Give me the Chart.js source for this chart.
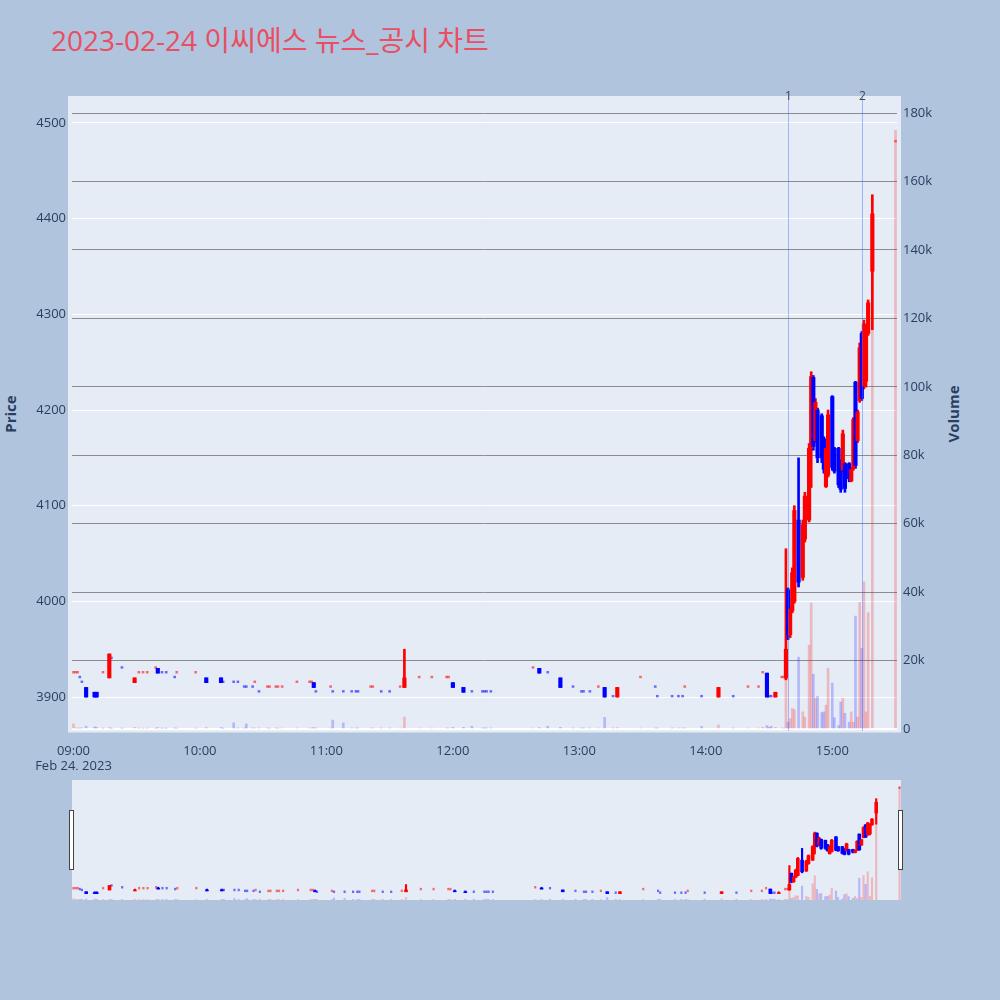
<!DOCTYPE html>
<html>
<head>
<meta charset="utf-8">
<script src="https://cdn.jsdelivr.net/npm/chart.js@4.4.0/dist/chart.umd.min.js"></script>
<style>
html, body { margin: 0; padding: 0; background: #b0c4de; }
#wrap { position: relative; width: 1000px; height: 1000px; background: #b0c4de; overflow: hidden;
        font-family: 'Open Sans', 'Noto Sans CJK KR', sans-serif; }
#title { position: absolute; left: 51px; top: 26px; font-size: 28px; line-height: 1; color: #e94e62; white-space: nowrap; }
.axt { position: absolute; font-size: 15px; font-weight: bold; color: #2a3f5f; white-space: nowrap;
       transform: translate(-50%, -50%) rotate(-90deg); }
#main { position: absolute; left: 0; top: 0; }
#slider { position: absolute; left: 72px; top: 780px; background: #e5ecf6; }
.handle { position: absolute; top: 810px; width: 3px; height: 58px; background: #fff; border: 1px solid #444; }
</style>
</head>
<body>
<div id="wrap">
  <div id="title">2023-02-24 이씨에스 뉴스_공시 차트</div>
  <div class="axt" style="left:10px; top:414px;">Price</div>
  <div class="axt" style="left:953px; top:414px;">Volume</div>
  <canvas id="main" width="1000" height="770"></canvas>
  <canvas id="slider" width="829" height="120"></canvas>
  <div class="handle" style="left:69px;"></div>
  <div class="handle" style="left:898px;"></div>
</div>
<script>
// minute bars, 2023-02-24
const times = ['09:00','09:01','09:02','09:03','09:04','09:06','09:10','09:11','09:14','09:17','09:18','09:23','09:29','09:31','09:33','09:35','09:39','09:40','09:42','09:44','09:48','09:49','09:58',
  '10:03','10:10','10:11','10:16','10:18','10:21','10:22','10:25','10:26','10:28','10:32','10:33','10:36','10:37','10:39','10:46','10:52','10:53','10:54','10:55',
  '11:02','11:03','11:08','11:12','11:14','11:15','11:21','11:22','11:26','11:30','11:35','11:37','11:44','11:50','11:57','11:58',
  '12:00','12:05','12:09','12:14','12:15','12:16','12:18','12:38','12:41','12:45','12:51','12:57',
  '13:01','13:02','13:05','13:09','13:12','13:16','13:18','13:29','13:36','13:37','13:44','13:47','13:49','13:50','13:58',
  '14:06','14:13','14:20','14:25','14:27','14:29','14:30','14:31','14:33','14:36','14:37',
  '14:38','14:39','14:40','14:41','14:42','14:44','14:46','14:47','14:49','14:50','14:51','14:52','14:53','14:55','14:56','14:57','14:58',
  '15:00','15:01','15:03','15:04','15:05','15:06','15:08','15:09','15:10','15:11','15:12','15:13','15:14','15:15','15:16','15:17','15:19','15:30'];
const opens = [3925,3925,3925,3920,3915,3910,3905,3905,3925,3920,3940,3930,3915,3925,3925,3925,3930,3930,3925,3925,3920,3925,3925,
  3920,3920,3915,3915,3915,3910,3910,3910,3915,3905,3910,3910,3910,3910,3910,3915,3915,3915,3915,3905,
  3910,3905,3905,3905,3905,3905,3910,3910,3905,3905,3910,3910,3920,3920,3920,3920,
  3915,3910,3905,3905,3905,3905,3905,3930,3930,3925,3920,3910,
  3905,3905,3905,3910,3910,3900,3900,3920,3910,3900,3900,3900,3900,3910,3900,
  3900,3900,3910,3910,3925,3925,3900,3900,3900,3920,3920,
  3920,4012,3965,3990,4000,4085,4025,4065,4085,4160,4234,4168,4200,4194,4170,4120,4132,
  4214,4160,4160,4147,4137,4144,4144,4126,4139,4229,4168,4210,4280,4225,4230,4280,4345,4480];
const highs = [3925,3925,3925,3920,3915,3910,3905,3905,3925,3945,3940,3930,3920,3925,3925,3925,3930,3930,3925,3925,3920,3925,3925,
  3920,3920,3915,3915,3915,3910,3910,3910,3915,3905,3910,3910,3910,3910,3910,3915,3915,3915,3915,3905,
  3910,3905,3905,3905,3905,3905,3910,3910,3905,3905,3910,3950,3920,3920,3920,3920,
  3915,3910,3905,3905,3905,3905,3905,3930,3930,3925,3920,3910,
  3905,3905,3905,3910,3910,3900,3910,3920,3910,3900,3900,3900,3900,3910,3900,
  3910,3900,3910,3910,3925,3925,3900,3900,3905,3920,3920,
  4055,4014,3995,4035,4100,4150,4085,4114,4165,4240,4236,4212,4202,4196,4172,4165,4200,
  4215,4161,4161,4148,4179,4145,4145,4140,4192,4230,4200,4270,4282,4294,4287,4315,4425,4480];
const lows = [3925,3925,3925,3920,3915,3900,3900,3900,3925,3920,3940,3930,3915,3925,3925,3925,3930,3925,3925,3925,3920,3925,3925,
  3915,3915,3915,3915,3915,3910,3910,3910,3915,3905,3910,3910,3910,3910,3910,3915,3915,3915,3910,3905,
  3910,3905,3905,3905,3905,3905,3910,3910,3905,3905,3910,3910,3920,3920,3920,3920,
  3910,3905,3905,3905,3905,3905,3905,3930,3925,3925,3910,3910,
  3905,3905,3905,3910,3900,3900,3900,3920,3910,3900,3900,3900,3900,3910,3900,
  3900,3900,3910,3910,3925,3900,3900,3900,3900,3920,3920,
  3918,3960,3962,3988,3998,4015,4022,4062,4083,4119,4158,4166,4145,4145,4134,4119,4130,
  4137,4134,4119,4114,4135,4114,4125,4125,4137,4139,4166,4208,4210,4222,4224,4278,4284,4480];
const closes = [3925,3925,3925,3920,3915,3900,3900,3900,3925,3945,3940,3930,3920,3925,3925,3925,3930,3925,3925,3925,3920,3925,3925,
  3915,3915,3915,3915,3915,3910,3910,3910,3915,3905,3910,3910,3910,3910,3910,3915,3915,3915,3910,3905,
  3910,3905,3905,3905,3905,3905,3910,3910,3905,3905,3910,3920,3920,3920,3920,3920,
  3910,3905,3905,3905,3905,3905,3905,3930,3925,3925,3910,3910,
  3905,3905,3905,3910,3900,3900,3910,3920,3910,3900,3900,3900,3900,3910,3900,
  3910,3900,3910,3910,3925,3900,3900,3900,3905,3920,3920,
  3950,3965,3992,4030,4095,4020,4080,4110,4160,4235,4162,4208,4150,4150,4138,4160,4195,
  4140,4136,4122,4117,4175,4118,4128,4138,4190,4142,4198,4265,4212,4290,4280,4312,4405,4480];
const volumes = [1500,300,200,300,300,800,600,500,200,400,200,200,500,200,200,200,200,400,200,200,300,200,200,
  400,400,200,1800,300,300,1500,300,300,300,300,200,300,200,300,300,300,300,400,300,
  300,2600,1800,300,300,300,300,300,300,300,300,3500,300,300,300,300,
  500,500,800,300,300,300,300,300,400,800,500,300,
  300,300,300,300,3400,300,400,300,300,300,300,300,300,300,800,
  1200,300,300,300,500,1000,500,800,500,300,300,
  15000,2000,3000,6000,5700,21000,5000,3500,24500,36800,16000,9000,9500,4800,5000,7000,17800,
  13400,3300,1000,7900,9000,4600,2000,5000,2000,33000,3500,37000,23600,43000,5000,34000,135000,175000];

// news / disclosure markers
const eventTimes = ['14:38:48', '15:14:12'];
const eventLabels = ['1', '2'];

const timeTicks = ['09:00','10:00','11:00','12:00','13:00','14:00','15:00'];
const priceTicks = [3900, 4000, 4100, 4200, 4300, 4400, 4500];
const volumeTicks = [0, 20000, 40000, 60000, 80000, 100000, 120000, 140000, 160000, 180000];

function toMin(t) {
  const p = t.split(':').map(Number);
  return (p[0] - 9) * 60 + p[1] + (p[2] || 0) / 60;
}

const xs = times.map(toMin);

// plotly-like direction: doji takes direction from previous close
const inc = [];
for (let i = 0; i < closes.length; i++) {
  if (closes[i] > opens[i]) inc.push(true);
  else if (closes[i] < opens[i]) inc.push(false);
  else if (i === 0) inc.push(true);
  else if (closes[i] > closes[i - 1]) inc.push(true);
  else if (closes[i] < closes[i - 1]) inc.push(false);
  else inc.push(inc[i - 1]);
}

const RED = '#ff0000', BLUE = '#0000ff';
const isDoji = opens.map((o, i) => o === closes[i] && lows[i] === highs[i]);
const bodyCol = inc.map((u, i) => isDoji[i] ? 'rgba(0,0,0,0)' : (u ? RED : BLUE));
const wickCol = inc.map((u, i) => isDoji[i] ? (u ? 'rgba(255,0,0,0.55)' : 'rgba(0,0,255,0.55)') : (u ? RED : BLUE));
const volCol = inc.map(u => u ? 'rgba(255,0,0,0.22)' : 'rgba(0,0,255,0.22)');

const X_MIN = -0.7, X_MAX = 390.7;
const P_MIN = 3864.5, P_MAX = 4528.2;
const V_MIN = -580, V_MAX = 185000;

function makeDatasets(bodyW, wickW, volW) {
  return [
    {
      label: 'body', order: 0, yAxisID: 'y', grouped: false,
      data: xs.map((x, i) => ({ x: x, y: [opens[i], closes[i]] })),
      backgroundColor: bodyCol, barThickness: bodyW
    },
    {
      label: 'wick', order: 1, yAxisID: 'y', grouped: false,
      data: xs.map((x, i) => ({ x: x, y: [lows[i], highs[i]] })),
      backgroundColor: wickCol, barThickness: wickW, minBarLength: 1.8
    },
    {
      label: 'volume', order: 2, yAxisID: 'yv', grouped: false,
      data: xs.map((x, i) => ({ x: x, y: volumes[i] })),
      backgroundColor: volCol, barThickness: volW
    }
  ];
}

const plotBg = {
  id: 'plotBg',
  beforeDraw(chart) {
    const c = chart.ctx, a = chart.chartArea;
    c.save();
    c.fillStyle = '#e5ecf6';
    c.fillRect(a.left - 4, a.top, a.right - a.left + 8, a.bottom - a.top + 1.5);
    c.restore();
  }
};

const eventLines = {
  id: 'eventLines',
  afterDatasetsDraw(chart) {
    const c = chart.ctx, a = chart.chartArea, sx = chart.scales.x;
    c.save();
    eventTimes.forEach((t, i) => {
      const px = Math.round(sx.getPixelForValue(toMin(t))) + 0.5;
      c.strokeStyle = 'rgba(70,110,255,0.45)';
      c.lineWidth = 1;
      c.beginPath();
      c.moveTo(px, a.top);
      c.lineTo(px, a.bottom);
      c.stroke();
      c.fillStyle = '#444';
      c.font = "12px 'Open Sans', sans-serif";
      c.textAlign = 'center';
      c.textBaseline = 'middle';
      c.fillText(eventLabels[i], px, a.top + 1);
    });
    c.restore();
  }
};

const tickFont = { family: "'Open Sans', sans-serif", size: 13 };
const tickColor = '#2a3f5f';

new Chart(document.getElementById('main'), {
  type: 'bar',
  data: { datasets: makeDatasets(3.5, 2, 2) },
  options: {
    responsive: false,
    animation: false,
    layout: { padding: { top: 96, left: 0, right: 0, bottom: 0 } },
    plugins: { legend: { display: false }, tooltip: { enabled: false } },
    scales: {
      x: {
        type: 'linear', min: X_MIN, max: X_MAX, offset: false,
        grid: { display: false }, border: { display: false },
        afterBuildTicks: s => { s.ticks = timeTicks.map(t => ({ value: toMin(t) })); },
        afterFit: s => { s.height = 39; },
        ticks: {
          autoSkip: false, maxRotation: 0, padding: 4, font: tickFont, color: tickColor,
          callback: (v, i) => i === 0 ? [timeTicks[i], 'Feb 24, 2023'] : timeTicks[i]
        }
      },
      y: {
        position: 'left', min: P_MIN, max: P_MAX,
        grid: { color: '#ffffff', lineWidth: 1, drawTicks: false }, border: { display: false },
        afterBuildTicks: s => { s.ticks = priceTicks.map(v => ({ value: v })); },
        afterFit: s => { s.width = 72; },
        ticks: { padding: 6, font: tickFont, color: tickColor, callback: v => String(v) }
      },
      yv: {
        position: 'right', min: V_MIN, max: V_MAX,
        grid: {
          drawTicks: false,
          color: c => c.tick && c.tick.value === 0 ? '#ffffff' : '#8c8c8c',
          lineWidth: c => c.tick && c.tick.value === 0 ? 2 : 1
        },
        border: { display: false },
        afterBuildTicks: s => { s.ticks = volumeTicks.map(v => ({ value: v })); },
        afterFit: s => { s.width = 103; },
        ticks: { padding: 6, font: tickFont, color: tickColor, callback: v => v === 0 ? '0' : (v / 1000) + 'k' }
      }
    }
  },
  plugins: [plotBg, eventLines]
});

// range slider preview
new Chart(document.getElementById('slider'), {
  type: 'bar',
  data: { datasets: makeDatasets(3, 1.5, 1.5) },
  options: {
    responsive: false,
    animation: false,
    layout: { padding: 0 },
    plugins: { legend: { display: false }, tooltip: { enabled: false } },
    scales: {
      x: { type: 'linear', display: false, min: X_MIN, max: X_MAX, offset: false },
      y: { display: false, min: P_MIN, max: P_MAX },
      yv: { display: false, position: 'right', min: V_MIN, max: V_MAX }
    }
  }
});
</script>
</body>
</html>
